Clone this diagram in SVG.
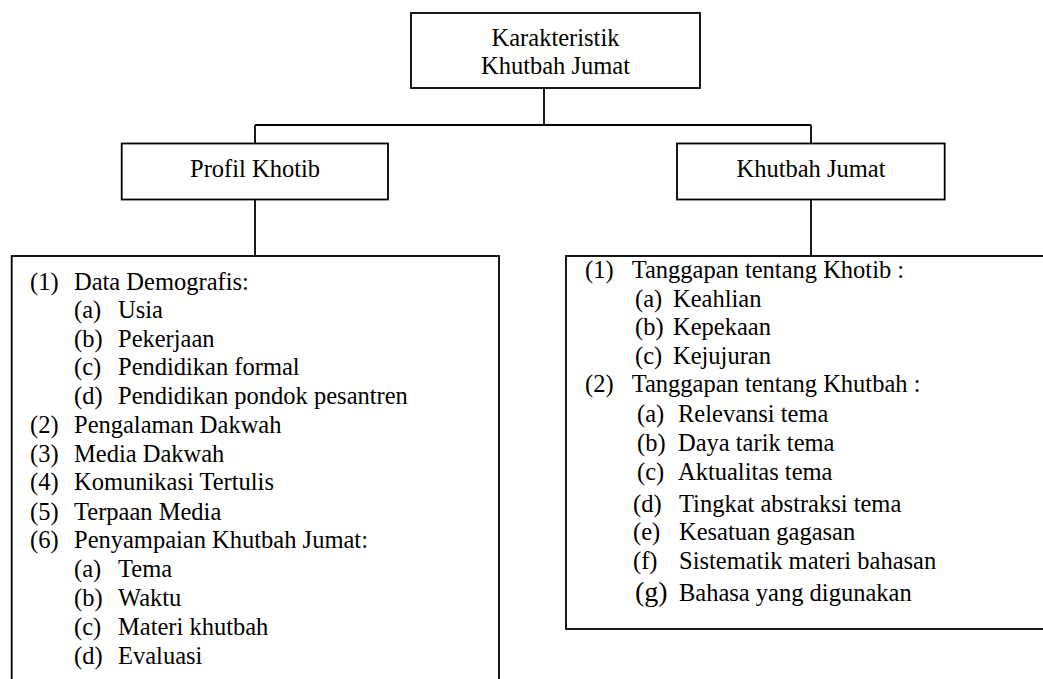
<svg xmlns="http://www.w3.org/2000/svg" width="1043" height="679" viewBox="0 0 1043 679">
<style>
.box{fill:#fff;stroke:#000;stroke-width:1.8}
.ln{stroke:#000;stroke-width:1.8;fill:none}
.c{text-anchor:middle}
</style>
<rect width="1043" height="679" fill="#fff"/>
<g id="connectors">
<line class="ln" x1="544" y1="88" x2="544" y2="125"/>
<line class="ln" x1="255" y1="125" x2="811" y2="125"/>
<line class="ln" x1="255" y1="125" x2="255" y2="143.5"/>
<line class="ln" x1="811" y1="125" x2="811" y2="143.5"/>
<line class="ln" x1="255" y1="199.5" x2="255" y2="256"/>
<line class="ln" x1="811" y1="199.5" x2="811" y2="256"/>
</g>
<g font-family="Liberation Serif, Times New Roman, DejaVu Serif, serif" font-size="24.5" fill="#000">
<g id="root">
<rect class="box" x="411" y="13" width="289" height="75"/>
<text class="c" x="555.5" y="46">Karakteristik</text>
<text class="c" x="555.5" y="74">Khutbah Jumat</text>
</g>
<g id="profil">
<rect class="box" x="121.7" y="143.5" width="266.3" height="56"/>
<text class="c" x="255" y="177">Profil Khotib</text>
</g>
<g id="khutbah">
<rect class="box" x="677" y="143.5" width="267.7" height="56"/>
<text class="c" x="811" y="177">Khutbah Jumat</text>
</g>
<g id="profil-list">
<rect class="box" x="11.7" y="256" width="487.3" height="440"/>
<text x="30" y="289.5">(1)</text><text x="74" y="289.5">Data Demografis:</text>
<text x="74" y="318">(a)</text><text x="118" y="318">Usia</text>
<text x="74" y="346.5">(b)</text><text x="118" y="346.5">Pekerjaan</text>
<text x="74" y="375">(c)</text><text x="118" y="375">Pendidikan formal</text>
<text x="74" y="403.5">(d)</text><text x="118" y="403.5">Pendidikan pondok pesantren</text>
<text x="30" y="432.5">(2)</text><text x="74" y="432.5">Pengalaman Dakwah</text>
<text x="30" y="461.5">(3)</text><text x="74" y="461.5">Media Dakwah</text>
<text x="30" y="490">(4)</text><text x="74" y="490">Komunikasi Tertulis</text>
<text x="30" y="519.5">(5)</text><text x="74" y="519.5">Terpaan Media</text>
<text x="30" y="548">(6)</text><text x="74" y="548">Penyampaian Khutbah Jumat:</text>
<text x="74" y="577">(a)</text><text x="118" y="577">Tema</text>
<text x="74" y="606">(b)</text><text x="118" y="606">Waktu</text>
<text x="74" y="634.5">(c)</text><text x="118" y="634.5">Materi khutbah</text>
<text x="74" y="663.5">(d)</text><text x="118" y="663.5">Evaluasi</text>
</g>
<g id="khutbah-list">
<rect class="box" x="566" y="256" width="490" height="373"/>
<text x="585" y="278">(1)</text><text x="631.7" y="278">Tanggapan tentang Khotib :</text>
<text x="635" y="306.5">(a)</text><text x="673" y="306.5">Keahlian</text>
<text x="635" y="335">(b)</text><text x="673" y="335">Kepekaan</text>
<text x="635" y="363.5">(c)</text><text x="673" y="363.5">Kejujuran</text>
<text x="585" y="392">(2)</text><text x="631.7" y="392">Tanggapan tentang Khutbah :</text>
<text x="637" y="421.5">(a)</text><text x="678" y="421.5">Relevansi tema</text>
<text x="637" y="451">(b)</text><text x="678" y="451">Daya tarik tema</text>
<text x="637" y="480">(c)</text><text x="678" y="480">Aktualitas tema</text>
<text x="633" y="511.5">(d)</text><text x="679" y="511.5">Tingkat abstraksi tema</text>
<text x="633" y="540">(e)</text><text x="679" y="540">Kesatuan gagasan</text>
<text x="633" y="568.5">(f)</text><text x="679" y="568.5">Sistematik materi bahasan</text>
<text x="635" y="600.5" font-size="28">(g)</text><text x="679" y="600.5">Bahasa yang digunakan</text>
</g>
</g>
</svg>
